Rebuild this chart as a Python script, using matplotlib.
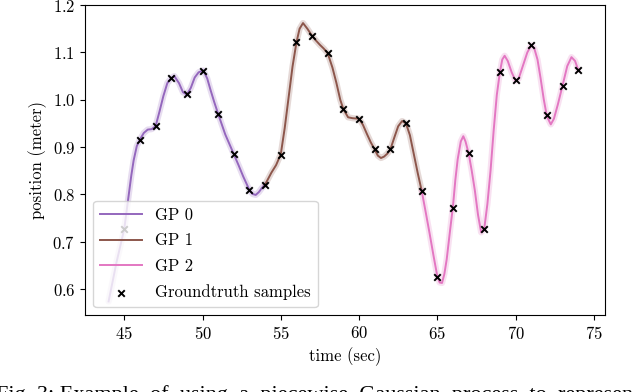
import matplotlib
matplotlib.use('Agg')
import matplotlib.pyplot as plt

plt.rcParams['font.family'] = ['cmr10', 'DejaVu Serif']
plt.rcParams['mathtext.fontset'] = 'cm'
plt.rcParams['axes.formatter.use_mathtext'] = True

# groundtruth samples
sample_t = [45, 46, 47, 48, 49, 50, 51, 52, 53, 54, 55, 56, 57, 58, 59, 60,
            61, 62, 63, 64, 65, 66, 67, 68, 69, 70, 71, 72, 73, 74]
sample_y = [0.727, 0.916, 0.944, 1.046, 1.012, 1.061, 0.971, 0.885, 0.809, 0.820,
            0.884, 1.121, 1.135, 1.098, 0.980, 0.960, 0.895, 0.895, 0.950, 0.808,
            0.625, 0.771, 0.887, 0.728, 1.059, 1.041, 1.116, 0.967, 1.030, 1.063]

# GP means
gp0_t = [44.0, 44.5, 45.0, 45.27, 45.45, 45.6, 45.8, 46.0, 46.25, 46.5, 46.75, 47.0,
         47.25, 47.5, 47.75, 48.0, 48.2, 48.5, 48.75, 49.0, 49.25, 49.5, 49.75, 50.05,
         50.3, 50.5, 50.75, 51.0, 51.45, 52.0, 52.3, 52.6, 53.0, 53.2, 53.4, 53.6,
         53.8, 54.0]
gp0_y = [0.574, 0.656, 0.727, 0.795, 0.840, 0.872, 0.902, 0.916, 0.930, 0.937, 0.938, 0.944,
         0.975, 1.008, 1.035, 1.046, 1.050, 1.035, 1.016, 1.011, 1.025, 1.047, 1.058, 1.062,
         1.045, 1.022, 0.995, 0.970, 0.927, 0.885, 0.862, 0.838, 0.809, 0.801, 0.799, 0.805,
         0.814, 0.821]

gp1_t = [54.0, 54.4, 54.7, 55.0, 55.25, 55.5, 55.75, 56.0, 56.2, 56.42, 56.7, 57.0,
         57.25, 57.5, 57.75, 58.0, 58.3, 58.55, 58.8, 59.0, 59.3, 59.6, 60.0, 60.25,
         60.5, 60.75, 61.0, 61.2, 61.4, 61.6, 61.8, 62.0, 62.25, 62.5, 62.75, 63.0,
         63.25, 63.5, 63.75, 64.0]
gp1_y = [0.821, 0.846, 0.862, 0.885, 0.940, 1.005, 1.070, 1.121, 1.150, 1.162, 1.150, 1.135,
         1.125, 1.116, 1.108, 1.098, 1.068, 1.036, 1.000, 0.980, 0.963, 0.961, 0.960, 0.947,
         0.928, 0.910, 0.895, 0.882, 0.877, 0.880, 0.886, 0.895, 0.920, 0.944, 0.955, 0.950,
         0.925, 0.885, 0.845, 0.808]

gp2_t = [64.0, 64.25, 64.5, 64.75, 65.0, 65.15, 65.3, 65.45, 65.6, 65.8, 66.0, 66.15,
         66.3, 66.5, 66.66, 66.8, 67.0, 67.2, 67.4, 67.6, 67.8, 68.0, 68.2, 68.4,
         68.6, 68.8, 69.0, 69.15, 69.3, 69.5, 69.75, 70.0, 70.2, 70.5, 70.75, 71.0,
         71.2, 71.4, 71.6, 71.8, 72.0, 72.25, 72.45, 72.7, 73.0, 73.3, 73.57, 73.8, 74.0]
gp2_y = [0.808, 0.764, 0.719, 0.672, 0.627, 0.614, 0.613, 0.632, 0.663, 0.720, 0.775, 0.830,
         0.874, 0.912, 0.923, 0.912, 0.887, 0.850, 0.808, 0.757, 0.720, 0.728, 0.780, 0.850,
         0.935, 1.010, 1.059, 1.085, 1.093, 1.082, 1.058, 1.040, 1.045, 1.075, 1.100, 1.115,
         1.108, 1.085, 1.045, 1.001, 0.965, 0.948, 0.960, 0.990, 1.030, 1.071, 1.090, 1.082, 1.063]

gps = [(gp0_t, gp0_y, 'tab:purple', 'GP 0'),
       (gp1_t, gp1_y, 'tab:brown', 'GP 1'),
       (gp2_t, gp2_y, 'tab:pink', 'GP 2')]

caption = 'Fig. 3: Example  of  using  a  piecewise  Gaussian  process  to  represen'

fig = plt.figure(figsize=(6.4, 3.92), dpi=100)
ax = fig.add_axes([0.133, 0.196, 0.812, 0.791])

for t, y, c, lab in gps:
    # faint spread of the GP samples
    ax.plot(t, y, color=c, lw=4.5, alpha=0.22, solid_capstyle='round')
    ax.plot(t, y, color=c, lw=1.4, label=lab)

ax.scatter(sample_t, sample_y, marker='x', color='k', s=22, linewidths=1.4,
           zorder=5, label='Groundtruth samples')

ax.set_xlim(42.5, 75.7)
ax.set_ylim(0.545, 1.198)
ax.set_xticks([45, 50, 55, 60, 65, 70, 75])
ax.set_yticks([0.6, 0.7, 0.8, 0.9, 1.0, 1.1, 1.2])
ax.tick_params(labelsize=12)
ax.set_xlabel('time (sec)', fontsize=12)
ax.set_ylabel('position (meter)', fontsize=12)
ax.legend(loc='lower left', fontsize=12, scatterpoints=1, handlelength=2.5,
          labelspacing=0.62)

fig.text(-0.006, -0.02, caption, family='Liberation Serif', fontsize=16,
         va='baseline', ha='left')

plt.savefig('out.png', dpi=100)
